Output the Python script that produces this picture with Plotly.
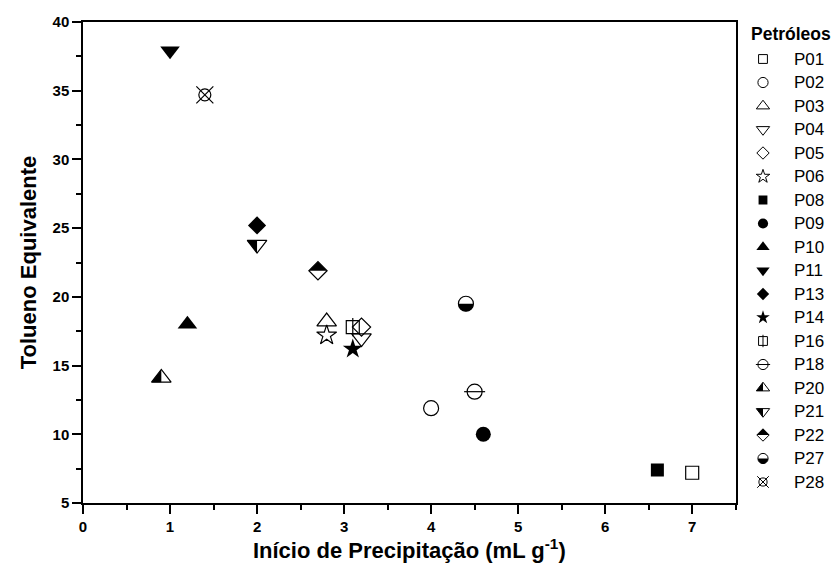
import math
import plotly.graph_objects as go

# ---- data ----
names = ["P01", "P02", "P03", "P04", "P05", "P06", "P08", "P09", "P10", "P11",
         "P13", "P14", "P16", "P18", "P20", "P21", "P22", "P27", "P28"]
inicio = [7.0, 4.0, 2.8, 3.2, 3.2, 2.8, 6.6, 4.6, 1.2, 1.0,
          2.0, 3.1, 3.1, 4.5, 0.9, 2.0, 2.7, 4.4, 1.4]
tolueno = [7.2, 11.9, 18.2, 17.0, 17.8, 17.2, 7.4, 10.0, 18.0, 37.9,
           25.2, 16.2, 17.8, 13.1, 14.1, 23.8, 21.9, 19.5, 34.7]
x_ticks = [0, 1, 2, 3, 4, 5, 6, 7]
y_ticks = [5, 10, 15, 20, 25, 30, 35, 40]

# ---- styles: list of (symbol, size) layers + optional half fill ----
styles = {
    "P01": ([("square-open", 13)], None),
    "P02": ([("circle-open", 15)], None),
    "P03": ([("triangle-up-open", 17)], None),
    "P04": ([("triangle-down-open", 17)], None),
    "P05": ([("diamond-open", 14)], None),
    "P06": ([("star-open", 15)], None),
    "P08": ([("square", 13)], None),
    "P09": ([("circle", 15)], None),
    "P10": ([("triangle-up", 17)], None),
    "P11": ([("triangle-down", 17)], None),
    "P13": ([("diamond", 14)], None),
    "P14": ([("star", 15)], None),
    "P16": ([("square-open", 13), ("line-ns-open", 13)], None),
    "P18": ([("circle-open", 15), ("line-ew-open", 15)], None),
    "P20": ([("triangle-up-open", 17)], "tri-up-left"),
    "P21": ([("triangle-down-open", 17)], "tri-down-left"),
    "P22": ([("diamond-open", 14)], "diamond-top"),
    "P27": ([("circle-open", 15)], "circle-bottom"),
    "P28": ([("circle-open", 12), ("x-thin-open", 17)], None),
}

FONT = "Liberation Sans"
W, H = 837, 573
ML, MR, MT, MB = 83, 0, 22, 70
plot_w = W - ML - MR
main_end = (735.7 - ML) / plot_w


def half_path(kind, size):
    r = size / 2.0
    if kind == "tri-up-left":
        rt = r * 2 / math.sqrt(3)
        pts = [(-rt, -r / 2), (0, -r / 2), (0, r)]
    elif kind == "tri-down-left":
        rt = r * 2 / math.sqrt(3)
        pts = [(-rt, r / 2), (0, r / 2), (0, -r)]
    elif kind == "diamond-top":
        rd = r * 1.3
        pts = [(-rd, 0), (0, rd), (rd, 0)]
    else:  # circle-bottom
        n = 24
        pts = [(r * math.cos(math.pi + math.pi * k / n), r * math.sin(math.pi + math.pi * k / n))
               for k in range(n + 1)]
    return "M " + " L ".join(f"{px:.2f},{py:.2f}" for px, py in pts) + " Z"


fig = go.Figure()
shapes = []
annotations = []

# main plot points
for name, xv, yv in zip(names, inicio, tolueno):
    layers, half = styles[name]
    for sym, sz in layers:
        filled = not sym.endswith("-open")
        fig.add_trace(go.Scatter(
            x=[xv], y=[yv], mode="markers", name=name, showlegend=False,
            xaxis="x", yaxis="y",
            marker=dict(symbol=sym, size=sz, color="black",
                        line=dict(color="black", width=0 if filled else 1.2)),
            hoverinfo="name+x+y"))
    if half:
        sz = layers[0][1]
        shapes.append(dict(type="path", xref="x", yref="y", xsizemode="pixel", ysizemode="pixel",
                           xanchor=xv, yanchor=yv, path=half_path(half, sz),
                           fillcolor="black", line=dict(width=0), layer="above"))

# manual legend on a second axis measured in pixels
leg_x0 = ML + (main_end + 0.004) * plot_w
LEG_MARK_X = 763
LEG_TEXT_X = 792
LEG_Y0 = 59
LEG_DY = 23.5
LEG_SCALE = 0.68
for i, name in enumerate(names):
    ly = LEG_Y0 + i * LEG_DY
    layers, half = styles[name]
    for sym, sz in layers:
        filled = not sym.endswith("-open")
        fig.add_trace(go.Scatter(
            x=[LEG_MARK_X], y=[ly], mode="markers", showlegend=False, hoverinfo="skip",
            xaxis="x2", yaxis="y2",
            marker=dict(symbol=sym, size=sz * LEG_SCALE, color="black",
                        line=dict(color="black", width=0 if filled else 1.0))))
    if half:
        sz = layers[0][1] * LEG_SCALE
        shapes.append(dict(type="path", xref="x2", yref="y2", xsizemode="pixel", ysizemode="pixel",
                           xanchor=LEG_MARK_X, yanchor=ly, path=half_path(half, sz),
                           fillcolor="black", line=dict(width=0), layer="above"))
    annotations.append(dict(x=LEG_TEXT_X, y=ly, xref="x2", yref="y2", text=name,
                            showarrow=False, xanchor="left", yanchor="middle",
                            font=dict(family=FONT, size=17, color="black")))

annotations.append(dict(x=749, y=34, xref="x2", yref="y2", text="<b>Petróleos</b>",
                        showarrow=False, xanchor="left", yanchor="middle",
                        font=dict(family=FONT, size=17.5, color="black")))

axis_common = dict(showgrid=False, zeroline=False, showline=True, linecolor="black",
                   linewidth=1.5, mirror=True, ticks="outside", ticklen=9, tickwidth=1.5,
                   tickcolor="black",
                   tickfont=dict(family=FONT, size=15, color="black", weight="bold"))

fig.update_layout(
    width=W, height=H,
    margin=dict(l=ML, r=MR, t=MT, b=MB),
    paper_bgcolor="white", plot_bgcolor="white",
    xaxis=dict(domain=[0, main_end], range=[0, 7.5], tickvals=x_ticks,
               minor=dict(dtick=0.5, ticks="outside", ticklen=5, tickwidth=1.5, tickcolor="black"),
               title=dict(text="Início de Precipitação (mL g<sup>-1</sup>)",
                          font=dict(family=FONT, size=22, color="black", weight="bold"),
                          standoff=6),
               **axis_common),
    yaxis=dict(range=[5, 40], tickvals=y_ticks,
               minor=dict(dtick=2.5, ticks="outside", ticklen=5, tickwidth=1.5, tickcolor="black"),
               title=dict(text="Tolueno Equivalente",
                          font=dict(family=FONT, size=22, color="black", weight="bold"),
                          standoff=10),
               **axis_common),
    xaxis2=dict(domain=[main_end + 0.004, 1], range=[leg_x0, W], visible=False, fixedrange=True),
    yaxis2=dict(domain=[0, 1], range=[H - MB, MT], visible=False, fixedrange=True, anchor="x2"),
    shapes=shapes,
    annotations=annotations,
    showlegend=False,
)

fig.write_html("out.html")
